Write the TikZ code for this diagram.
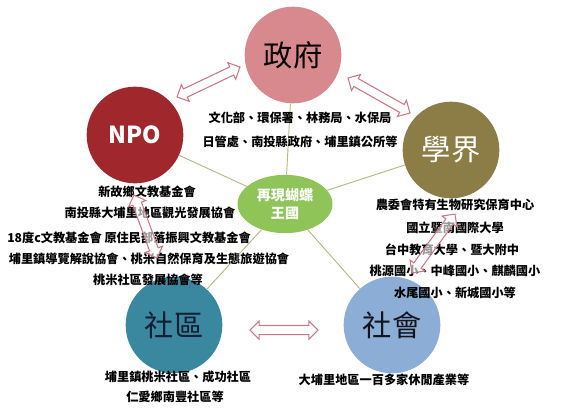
\documentclass[tikz,border=0pt]{standalone}
\usepackage{fontspec}
\setmainfont{Noto Sans CJK TC}
\usetikzlibrary{shapes.geometric,shapes.arrows,calc}

\definecolor{govcol}{RGB}{216,137,141}
\definecolor{npocol}{RGB}{160,40,45}
\definecolor{acacol}{RGB}{140,124,70}
\definecolor{comcol}{RGB}{58,135,160}
\definecolor{soccol}{RGB}{140,174,214}
\definecolor{kingcol}{RGB}{142,196,88}
\definecolor{linkcol}{RGB}{180,186,132}
\definecolor{arrcol}{RGB}{200,120,135}

% hollow two-way block arrow between two named points
\newcommand\twoway[2]{\path let \p1=($(#2)-(#1)$), \n1={veclen(\x1,\y1)} in (#1) -- node[twoarrow,minimum height=\n1]{} (#2);}

\begin{document}
\begin{tikzpicture}[x=0.03cm,y=-0.03cm,
  ball/.style={circle,minimum size=2.9cm,inner sep=0pt,font=\fontsize{25}{28}\selectfont},
  info/.style={font=\bfseries\fontsize{10.4}{12}\selectfont,inner sep=0pt},
  link/.style={linkcol,line width=0.8pt},
  twoarrow/.style={double arrow,draw=arrcol,fill=white,fill opacity=0.6,line width=0.9pt,
    inner xsep=0pt,inner ysep=0.12cm,double arrow head extend=0.14cm,sloped,allow upside down}]
\useasboundingbox (0,0) rectangle (568,410);

\node[ball,fill=govcol] (gov) at (293,55) {政府};
\node[ball,fill=npocol,text=white,font=\bfseries\fontsize{20}{24}\selectfont] (npo) at (135,135) {NPO};
\node[ball,fill=acacol,text=white] (aca) at (451,150) {學界};
\node[ball,fill=comcol,text={rgb,255:red,20;green,30;blue,50}] (com) at (174,325) {社區};
\node[ball,fill=soccol,text={rgb,255:red,20;green,20;blue,30}] (soc) at (392,325) {社會};
\node[ellipse,fill=kingcol,minimum width=2.85cm,minimum height=1.75cm,inner sep=0pt,text=white,
  align=center,font=\bfseries\fontsize{12}{15}\selectfont] (king) at (285,204) {再現蝴蝶\\王國};

\draw[link] (king) -- (gov);
\draw[link] (king) -- (npo);
\draw[link] (king) -- (aca);
\draw[link] (king) -- (com);
\draw[link] (king) -- (soc);

\node[info] (gov1) at (300,118) {文化部、環保署、林務局、水保局};
\node[info] (gov2) at (300,142) {日管處、南投縣政府、埔里鎮公所等};

\node[info] (npo1) at (147,192) {新故鄉文教基金會};
\node[info] (npo2) at (150,213) {南投縣大埔里地區觀光發展協會};
\node[info] (npo3) at (129,238) {18度c文教基金會 原住民部落振興文教基金會};
\node[info] (npo4) at (149,259) {埔里鎮導覽解說協會、桃米自然保育及生態旅遊協會};
\node[info] (npo5) at (148,280) {桃米社區發展協會等};

\node[info] (aca1) at (455,205) {農委會特有生物研究保育中心};
\node[info] (aca2) at (455,228) {國立暨南國際大學};
\node[info] (aca3) at (452,250) {台中教育大學、暨大附中};
\node[info] (aca4) at (455,271) {桃源國小、中峰國小、麒麟國小};
\node[info] (aca5) at (455,293) {水尾國小、新城國小等};

\node[info] (com1) at (178,377) {埔里鎮桃米社區、成功社區};
\node[info] (com2) at (175,397) {仁愛鄉南豐社區等};

\node[info] (soc1) at (384,380) {大埔里地區一百多家休閒產業等};

% arrow ends
\coordinate (ng1) at (177,97);  \coordinate (ng2) at (240,67);
\coordinate (ga1) at (348,78);  \coordinate (ga2) at (410,113);
\coordinate (as1) at (455,214); \coordinate (as2) at (412,273);
\coordinate (nc1) at (134,195); \coordinate (nc2) at (157,258);
\coordinate (cs1) at (250,330); \coordinate (cs2) at (318,330);

\twoway{ng1}{ng2}
\twoway{ga1}{ga2}
\twoway{as1}{as2}
\twoway{nc1}{nc2}
\twoway{cs1}{cs2}
\end{tikzpicture}
\end{document}
